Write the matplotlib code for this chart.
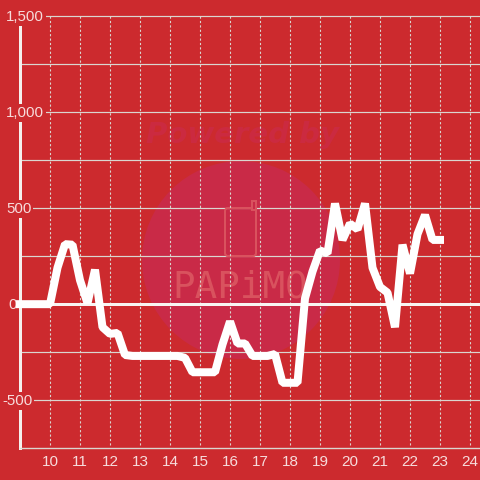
import matplotlib
matplotlib.use('Agg')
import matplotlib.pyplot as plt
from matplotlib.patches import Circle, FancyBboxPatch, Rectangle
from matplotlib.transforms import IdentityTransform, blended_transform_factory

# 15 minute steps, from 9:00 to 23:00
hours = [9 + i * 0.25 for i in range(57)]
values = [0, 0, 0, 0, 0, 190, 313, 310, 125, 5, 180, -120, -155, -150, -265,
          -270, -270, -270, -270, -270, -270, -270, -280, -355, -355, -355, -355,
          -210, -90, -205, -205, -270, -270, -270, -260, -410, -410, -410, 30,
          170, 280, 265, 525, 335, 420, 390, 525, 190, 90, 60, -120, 310, 160,
          365, 465, 335, 335]

x_ticks = list(range(10, 25))
y_grid = [-750, -500, -250, 0, 250, 500, 750, 1000, 1250, 1500]
y_ticks = [1500, 1000, 500, 0, -500]
y_labels = ['1,500', '1,000', '500', '0', '-500']
y_label_px = [6, 6, 6, 8, 2]

BG = '#CC2A2E'
GRID = '#DAD6D0'
TEXT = '#F7DCDC'
WM = '#D9525E'
px = 0.72  # 1 pixel in points at dpi 100

plt.rcParams['font.family'] = ['Liberation Sans', 'DejaVu Sans']

fig = plt.figure(figsize=(4.8, 4.8), dpi=100, facecolor=BG)
ax = fig.add_axes([20 / 480, 32 / 480, 460 / 480, 431.5 / 480], facecolor=BG)

# watermark, under the grid
pix = IdentityTransform()
ax.add_patch(Circle((241, 220), 99, transform=pix, fc='#C92A47', ec='none', zorder=0.5))
ax.add_patch(FancyBboxPatch((225, 224), 31, 48, boxstyle='round,pad=0,rounding_size=3', transform=pix,
                            fc='none', ec=WM, lw=2 * px, zorder=0.6))
ax.add_patch(Rectangle((252, 270), 4, 9, transform=pix, fc='#C92A47', ec=WM, lw=2 * px, zorder=0.6))
ax.text(240, 192, 'PAPiMO', transform=pix, ha='center', va='center', color=WM, fontsize=27,
        family='DejaVu Sans Mono', zorder=0.6)
ax.text(243, 345, 'Powered by', transform=pix, ha='center', va='center', color='#CB2A40', fontsize=21,
        family='DejaVu Sans', weight='bold', style='italic', zorder=0.6)

ax.set_xlim(9, 9 + 460 / 30)
ax.set_ylim(-750, 1500)

ax.set_xticks(x_ticks)
ax.set_yticks(y_grid)
ax.set_yticklabels([])
ax.tick_params(length=0)
ax.tick_params(axis='x', colors=TEXT, labelsize=11, pad=5)
ax.grid(axis='y', color=GRID, lw=1.2 * px, zorder=1)
for gl in ax.get_ygridlines():
    gl.set_clip_on(False)
ax.vlines(x_ticks, -735, 1500, color=GRID, lw=1.1 * px, linestyles=(0, (2, 2)), zorder=1)
ax.set_axisbelow(True)

for side in ['top', 'right']:
    ax.spines[side].set_visible(False)
ax.spines['bottom'].set_color(GRID)
ax.spines['bottom'].set_linewidth(1.2 * px)
ax.spines['left'].set_color('#F5F0EE')
ax.spines['left'].set_linewidth(3 * px)
ax.spines['left'].set_zorder(1.5)

ax.axhline(0, color='#F8F4F2', lw=3 * px, zorder=2)

# y labels sit on the axis with a patch of background behind them
tr = blended_transform_factory(pix, ax.transData)
for v, s, x in zip(y_ticks, y_labels, y_label_px):
    ax.text(x, v - 3, s, transform=tr, ha='left', va='center', color=TEXT, fontsize=10.8, zorder=3,
            clip_on=False, bbox=dict(fc=BG, ec='none', pad=1.5))

ax.plot(hours, values, color='white', lw=8 * px, solid_capstyle='projecting',
        solid_joinstyle='bevel', clip_on=False, zorder=4)

fig.savefig('out.png', dpi=100, facecolor=BG)
